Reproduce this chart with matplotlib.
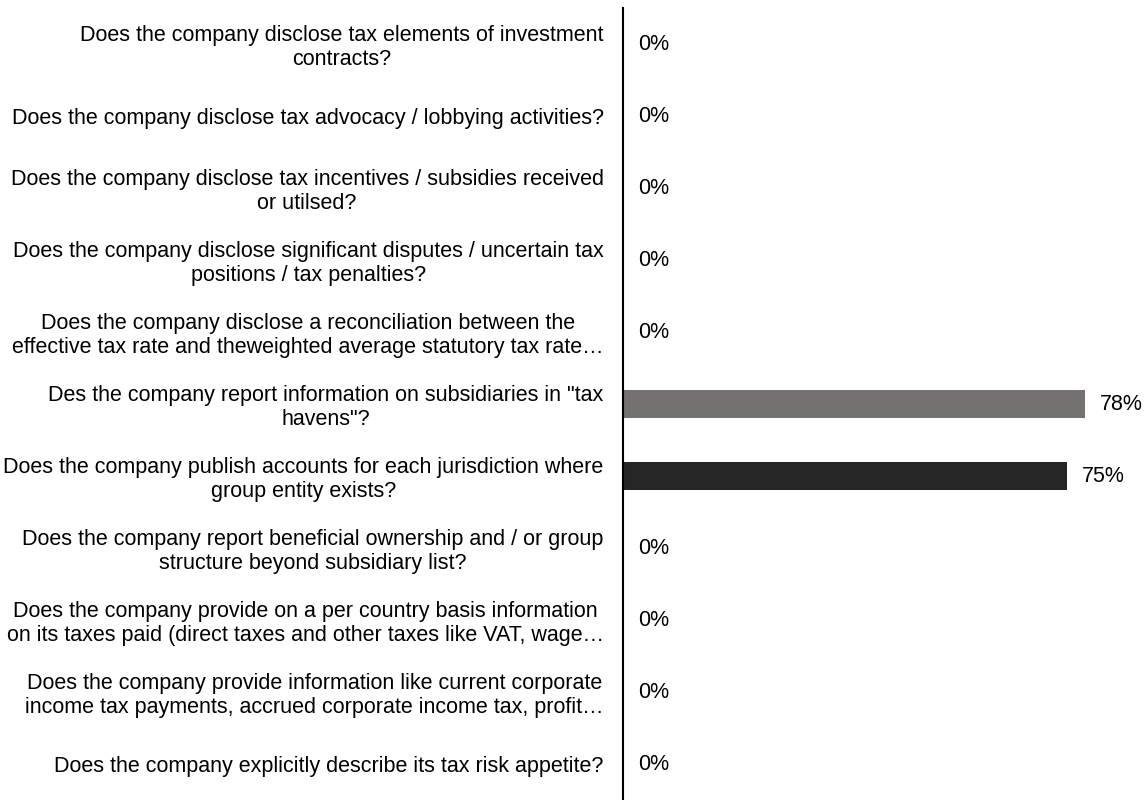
import matplotlib.pyplot as plt

plt.rcParams["font.family"] = ["Liberation Sans", "DejaVu Sans"]

TEXT_COLOR = "#000000"
BAR_DARK = "#262626"
BAR_GRAY = "#767171"
FONT_SIZE = 15.5

questions = [
    "Does the company disclose tax elements of investment\ncontracts?",
    "Does the company disclose tax advocacy / lobbying activities?",
    "Does the company disclose tax incentives / subsidies received\nor utilsed?",
    "Does the company disclose significant disputes / uncertain tax\npositions / tax penalties?",
    "Does the company disclose a reconciliation between the\neffective tax rate and theweighted average statutory tax rate\u2026",
    "Des the company report information on subsidiaries in \"tax\nhavens\"?",
    "Does the company publish accounts for each jurisdiction where\ngroup entity exists?",
    "Does the company report beneficial ownership and / or group\nstructure beyond subsidiary list?",
    "Does the company provide on a per country basis information\non its taxes paid (direct taxes and other taxes like VAT, wage\u2026",
    "Does the company provide information like current corporate\nincome tax payments, accrued corporate income tax, profit\u2026",
    "Does the company explicitly describe its tax risk appetite?",
]
shares = [0.0, 0.0, 0.0, 0.0, 0.0, 0.78, 0.75, 0.0, 0.0, 0.0, 0.0]
pct_labels = ["0%", "0%", "0%", "0%", "0%", "78%", "75%", "0%", "0%", "0%", "0%"]

# the tax-haven question is shown in grey, everything else in near-black
bar_colors = [BAR_GRAY if q.startswith("Des the") else BAR_DARK for q in questions]

fig = plt.figure(figsize=(11.46, 8.0), dpi=100)
ax = fig.add_axes([623 / 1146, 0.0, 523 / 1146, 792 / 800])

y_pos = list(range(len(questions)))
bars = ax.barh(y_pos, shares, height=0.4, color=bar_colors)

for bar, label in zip(bars, pct_labels):
    ax.annotate(
        label,
        xy=(bar.get_width(), bar.get_y() + bar.get_height() / 2),
        xytext=(11, 0),
        textcoords="offset points",
        ha="left",
        va="center",
        fontsize=FONT_SIZE,
        color=TEXT_COLOR,
    )

ax.set_yticks(y_pos)
ax.set_yticklabels(
    questions,
    fontsize=FONT_SIZE,
    color=TEXT_COLOR,
    multialignment="center",
    linespacing=1.15,
)
ax.set_ylim(len(questions) - 0.5, -0.5)
ax.set_xlim(0, 523 / 592)

ax.tick_params(axis="y", length=0, pad=14)
ax.set_xticks([])
for spine in ["top", "right", "bottom"]:
    ax.spines[spine].set_visible(False)
ax.spines["left"].set_linewidth(1.5)
ax.spines["left"].set_color("#000000")

fig.savefig("out.png", dpi=100)
